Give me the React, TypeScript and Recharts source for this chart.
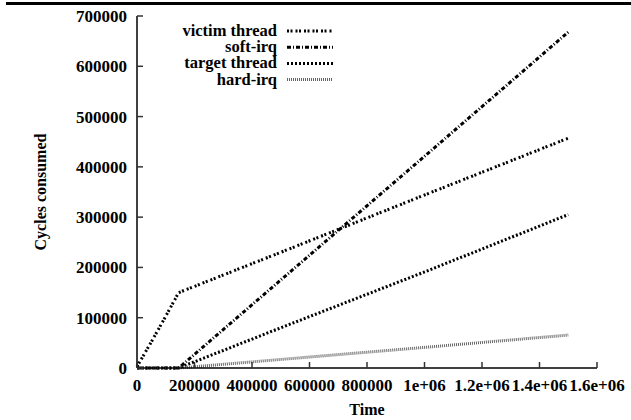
import { LineChart, Line, XAxis, YAxis } from 'recharts';

// x values (time) shared by every series
const times = [0, 50000, 100000, 145000, 500000, 1000000, 1500000];

const victimThread = [3000, 52000, 103000, 150000, 230000, 344000, 457000];
const softIrq = [0, 0, 0, 0, 175000, 421000, 668000];
const targetThread = [0, 0, 0, 0, 80000, 191000, 305000];
const hardIrq = [0, 0, 0, 0, 17000, 41000, 65500];

const xTicks = [0, 200000, 400000, 600000, 800000, 1000000, 1200000, 1400000, 1600000];
const xTickLabels = ['0', '200000', '400000', '600000', '800000', '1e+06', '1.2e+06', '1.4e+06', '1.6e+06'];
const yTicks = [0, 100000, 200000, 300000, 400000, 500000, 600000, 700000];

const series = [
  { key: 'victim', name: 'victim thread', values: victimThread, color: '#000', dash: '2 1.5 2 3' },
  { key: 'soft', name: 'soft-irq', values: softIrq, color: '#000', dash: '4 2 1 2' },
  { key: 'target', name: 'target thread', values: targetThread, color: '#000', dash: '2 2' },
  { key: 'hard', name: 'hard-irq', values: hardIrq, color: '#666', dash: '1 1' },
];

const data = times.map((t, i) => {
  const row: Record<string, number> = { t };
  series.forEach((s) => {
    row[s.key] = s.values[i];
  });
  return row;
});

const FONT = '"Liberation Serif", "Times New Roman", serif';
const TICK_LEN = 6;
const TICK_COLOR = '#333';

function BottomTick(props: any) {
  const { x, y, payload } = props;
  const idx = xTicks.indexOf(payload.value);
  return (
    <g>
      <line x1={x} y1={y} x2={x} y2={y - TICK_LEN} stroke={TICK_COLOR} strokeWidth={1.5} />
      <text x={x} y={y + 23} textAnchor="middle" fontFamily={FONT} fontWeight="bold" fontSize={17} fill="#000">
        {idx >= 0 ? xTickLabels[idx] : payload.value}
      </text>
    </g>
  );
}

function TopTick(props: any) {
  const { x, y } = props;
  return <line x1={x} y1={y} x2={x} y2={y + TICK_LEN} stroke={TICK_COLOR} strokeWidth={1.5} />;
}

function LeftTick(props: any) {
  const { x, y, payload } = props;
  return (
    <g>
      <line x1={x} y1={y} x2={x + TICK_LEN} y2={y} stroke={TICK_COLOR} strokeWidth={1.5} />
      <text x={x - 10} y={y + 6} textAnchor="end" fontFamily={FONT} fontWeight="bold" fontSize={17} fill="#000">
        {payload.value}
      </text>
    </g>
  );
}

function RightTick(props: any) {
  const { x, y } = props;
  return <line x1={x} y1={y} x2={x - TICK_LEN} y2={y} stroke={TICK_COLOR} strokeWidth={1.5} />;
}

function KeyBox() {
  return (
    <svg width={631} height={420} style={{ position: 'absolute', left: 0, top: 0, pointerEvents: 'none' }}>
      {series.map((s, i) => {
        const y = 31 + i * 16.2;
        return (
          <g key={s.key}>
            <text x={277} y={y + 5} textAnchor="end" fontFamily={FONT} fontWeight="bold" fontSize={16.5} fill="#000">
              {s.name}
            </text>
            <line x1={287} y1={y} x2={333} y2={y} stroke={s.color} strokeWidth={3} strokeDasharray={s.dash} />
          </g>
        );
      })}
    </svg>
  );
}

export default function App() {
  const axisLine = { stroke: '#000', strokeWidth: 1.5 };
  return (
    <div style={{ position: 'relative', width: 631, height: 420, background: '#fff' }}>
      <style>{`body { margin: 0; }`}</style>
      <div style={{ position: 'absolute', left: 6, top: 2, width: 625, height: 3, background: '#000' }} />
      <LineChart width={631} height={420} data={data} margin={{ top: 16, right: 34, bottom: 0, left: 0 }}>
        <XAxis
          xAxisId="b"
          dataKey="t"
          type="number"
          domain={[0, 1600000]}
          ticks={xTicks}
          height={52}
          tickSize={0}
          tickMargin={0}
          tickLine={false}
          axisLine={axisLine}
          tick={<BottomTick />}
          interval={0}
          label={{ value: 'Time', position: 'insideBottom', offset: 5, style: { fontFamily: FONT, fontWeight: 'bold', fontSize: 16, fill: '#000' } }}
        />
        <XAxis
          xAxisId="t"
          orientation="top"
          type="number"
          domain={[0, 1600000]}
          ticks={xTicks}
          height={0}
          tickSize={0}
          tickMargin={0}
          tickLine={false}
          axisLine={axisLine}
          tick={<TopTick />}
          interval={0}
        />
        <YAxis
          yAxisId="l"
          type="number"
          domain={[0, 700000]}
          ticks={yTicks}
          width={137}
          tickSize={0}
          tickMargin={0}
          tickLine={false}
          axisLine={axisLine}
          tick={<LeftTick />}
          interval={0}
          label={{ value: 'Cycles consumed', angle: -90, position: 'insideLeft', offset: 40, style: { textAnchor: 'middle', fontFamily: FONT, fontWeight: 'bold', fontSize: 16, fill: '#000' } }}
        />
        <YAxis
          yAxisId="r"
          orientation="right"
          type="number"
          domain={[0, 700000]}
          ticks={yTicks}
          width={0}
          tickSize={0}
          tickMargin={0}
          tickLine={false}
          axisLine={axisLine}
          tick={<RightTick />}
          interval={0}
        />
        {series.map((s) => (
          <Line
            key={s.key}
            xAxisId="b"
            yAxisId="l"
            type="linear"
            dataKey={s.key}
            name={s.name}
            stroke={s.color}
            strokeWidth={3}
            strokeDasharray={s.dash}
            dot={false}
            activeDot={false}
            isAnimationActive={false}
          />
        ))}
      </LineChart>
      <KeyBox />
    </div>
  );
}
